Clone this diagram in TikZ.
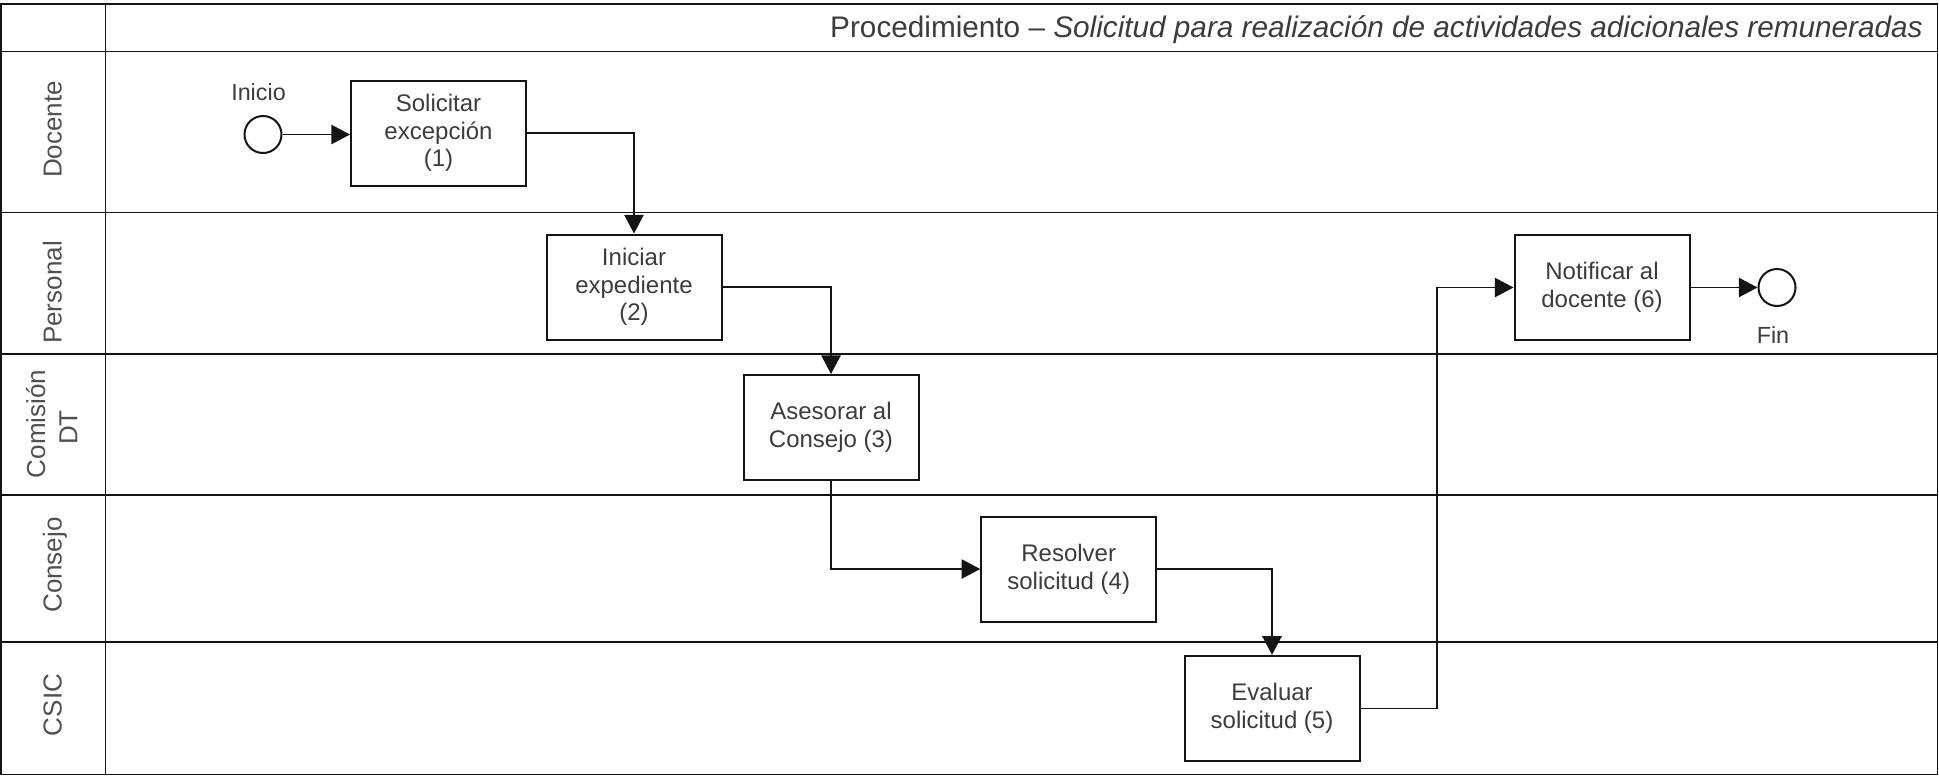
\documentclass[tikz,border=0pt]{standalone}
\usepackage{fontspec}
\setmainfont{Liberation Sans}
\usetikzlibrary{arrows.meta}
\definecolor{linec}{RGB}{20,20,20}
\definecolor{txtc}{RGB}{60,60,60}
\definecolor{lanetxt}{RGB}{80,80,80}
\begin{document}
\begin{tikzpicture}[x=0.75pt,y=-0.75pt,
 lane/.style={draw=linec,line width=1.4pt},
 task/.style={draw=linec,line width=1.5pt,fill=white,minimum width=131.25pt,minimum height=78.75pt,align=center,font=\fontsize{18}{20.7}\selectfont,text=txtc,inner sep=0pt},
 event/.style={circle,draw=linec,line width=1.5pt,minimum size=27.75pt,inner sep=0pt,fill=white},
 evlabel/.style={font=\fontsize{17.5}{20}\selectfont,text=txtc,inner sep=0pt},
 lanelabel/.style={rotate=90,anchor=base,font=\fontsize{19.5}{22}\selectfont,text=lanetxt,inner sep=0pt},
 flow/.style={draw=linec,line width=1.15pt,-{Triangle[length=14pt,width=14.5pt]}}
]
\useasboundingbox (0,0) rectangle (1939,776);
% pool and lanes
\draw[lane] (1,4) rectangle (1937.5,774.5);
\draw[lane] (105.5,4) -- (105.5,774.5);
\foreach \y in {51.5,212.5,354,495.3,642.3} \draw[lane] (1,\y) -- (1937.5,\y);
% title
\node[anchor=base east,font=\fontsize{22.3}{26}\selectfont,text=txtc,inner sep=0pt] (title) at (1923,37.3)
  {Procedimiento – \textit{Solicitud para realización de actividades adicionales remuneradas}};
% lane labels
\node[lanelabel] (lDoc) at (61.7,129.5) {Docente};
\node[lanelabel] (lPer) at (61.7,292.5) {Personal};
\node[lanelabel] (lCom) at (45,424) {Comisión};
\node[lanelabel] (lDT) at (77.3,427.5) {DT};
\node[lanelabel] (lCon) at (61.7,565) {Consejo};
\node[lanelabel] (lCSIC) at (61.7,705) {CSIC};
% events and tasks
\node[event] (start) at (263,134.5) {};
\node[evlabel] (inicio) at (258.5,92) {Inicio};
\node[task] (t1) at (438.5,133) {Solicitar\\excepción\\(1)};
\node[task] (t2) at (634,287) {Iniciar\\expediente\\(2)};
\node[task] (t3) at (831,427.5) {Asesorar al\\Consejo (3)};
\node[task] (t4) at (1068.7,569) {Resolver\\solicitud (4)};
\node[task] (t5) at (1272,708.3) {Evaluar\\solicitud (5)};
\node[task] (t6) at (1602,287.5) {Notificar al\\docente (6)};
\node[event] (fin) at (1777,287.5) {};
\node[evlabel] (finl) at (1773,335) {Fin};
\coordinate (bend) at (1437,0);
% flows
\draw[flow] (start.east) -- (t1.west |- start.east);
\draw[flow] (t1.east) -| (t2.north);
\draw[flow] (t2.east) -| (t3.north);
\draw[flow] (t3.south) |- (t4.west);
\draw[flow] (t4.east) -| (t5.north);
\draw[flow] (t5.east) -| (bend |- t6.west) -- (t6.west);
\draw[flow] (t6.east) -- (fin.west);
\end{tikzpicture}
\end{document}
